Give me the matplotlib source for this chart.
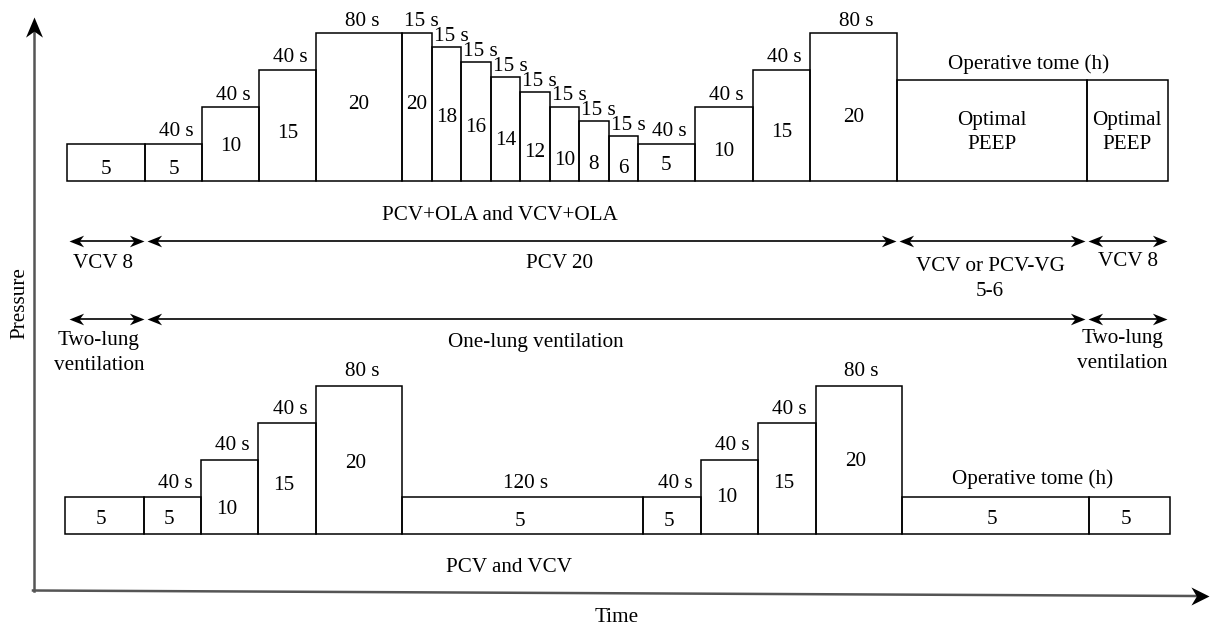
import numpy as np
import matplotlib.pyplot as plt
from matplotlib.path import Path

plt.rcParams['font.family'] = ['Liberation Serif', 'DejaVu Serif']

# ---- data ----
# top protocol (PCV+OLA / VCV+OLA)
top_levels = [5, 5, 10, 15, 20, 20, 18, 16, 14, 12, 10, 8, 6, 5, 10, 15, 20, 13.6, 13.6]
top_inner = ['5', '5', '10', '15', '20', '20', '18', '16', '14', '12', '10', '8', '6',
             '5', '10', '15', '20', 'Optimal\nPEEP', 'Optimal\nPEEP']
top_durations = ['', '40 s', '40 s', '40 s', '80 s'] + ['15 s'] * 8 + \
                ['40 s', '40 s', '40 s', '80 s', 'Operative tome (h)', '']

# bottom protocol (PCV / VCV)
bot_levels = [5, 5, 10, 15, 20, 5, 5, 10, 15, 20, 5, 5]
bot_inner = ['5', '5', '10', '15', '20', '5', '5', '10', '15', '20', '5', '5']
bot_durations = ['', '40 s', '40 s', '40 s', '80 s', '120 s',
                 '40 s', '40 s', '40 s', '80 s', 'Operative tome (h)', '']

# phases shown by the arrows
mode_labels = ['VCV 8', 'PCV 20', 'VCV or PCV-VG\n5-6', 'VCV 8']
lung_labels = ['Two-lung\nventilation', 'One-lung ventilation', 'Two-lung\nventilation']

# ---- layout (pixels) ----
PX = 7.4  # pixels per pressure unit
top_widths = [78, 57, 57, 57, 86] + [29.5] * 8 + [57, 57.5, 57.5, 87, 189.5, 81.5]
top_rise = [11, 11, 34, 47, 76, 76, 63, 53, 40, 28, 20, 16, 12, 15, 29, 48, 63, 48, 48]
bot_widths = [78.5, 57.5, 57, 58, 86, 241, 58, 57, 57.5, 86.5, 187, 81]
bot_rise = [14, 14, 24, 48, 70, 12, 12, 36, 51, 72, 15, 14]

FS = 15.2

fig = plt.figure(figsize=(12.11, 6.29), dpi=100)
ax = fig.add_axes([0, 0, 1, 1])
ax.set_xlim(0, 1211)
ax.set_ylim(629, 0)
ax.axis('off')


# notched arrow heads, tip at the origin
def head(direction, hw):
    pts = np.array([(0, 0), (-1, hw), (-0.7, 0), (-1, -hw), (0, 0)])
    if direction == 'left':
        pts[:, 0] *= -1
    elif direction == 'up':
        pts = pts[:, ::-1].copy()
    codes = [Path.MOVETO, Path.LINETO, Path.LINETO, Path.LINETO, Path.CLOSEPOLY]
    return Path(pts, codes)


def draw_row(x0, base, widths, levels, inner, rise, durations, in_dx, dur_gap):
    widths = np.array(widths, dtype=float)
    lefts = x0 + np.concatenate([[0], np.cumsum(widths)[:-1]])
    heights = np.array(levels) * PX
    ax.bar(lefts, -heights, width=widths, bottom=base, align='edge',
           fill=False, edgecolor='black', linewidth=1.1)
    for left, w, h, lab, r, dur in zip(lefts, widths, heights, inner, rise, durations):
        cx = left + w / 2
        ax.text(cx + in_dx, base - r, lab, ha='center', va='center',
                fontsize=FS, linespacing=1.3)
        if dur:
            if len(dur) > 6:
                dx, gap = 37, dur_gap + 4
            elif dur == '15 s':
                dx, gap = 5, dur_gap - 1
            else:
                dx, gap = 3, dur_gap
            ax.text(cx + dx, base - h - gap, dur, ha='center', va='center', fontsize=FS)
    return lefts, widths


tl, tw = draw_row(67, 180.5, top_widths, top_levels, top_inner, top_rise,
                  top_durations, 0, 11.5)
draw_row(65, 534, bot_widths, bot_levels, bot_inner, bot_rise,
         bot_durations, -3, 14)

# phase arrows, boundaries taken from the top row box edges
edges = np.concatenate([tl, [tl[-1] + tw[-1]]])
mode_bounds = [edges[0], edges[1], edges[17], edges[18], edges[19]]
lung_bounds = [edges[0], edges[1], edges[18], edges[19]]


def phase_arrows(bounds, y):
    for a, b in zip(bounds[:-1], bounds[1:]):
        a, b = a + 1.5, b - 1.5
        ax.plot([a + 6, b - 6], [y, y], color='black', lw=1.2, solid_capstyle='butt')
        ax.plot([a], [y], marker=head('left', 0.4), markersize=21,
                color='black', markeredgewidth=0, linestyle='none')
        ax.plot([b], [y], marker=head('right', 0.4), markersize=21,
                color='black', markeredgewidth=0, linestyle='none')


phase_arrows(mode_bounds, 241)
phase_arrows(lung_bounds, 319)

ax.text(500, 216, 'PCV+OLA and VCV+OLA', ha='center', va='center', fontsize=FS)
mode_pos = [(103, 263), (560, 263), (990, 279), (1128, 261)]
for (x, y), lab in zip(mode_pos, mode_labels):
    ax.text(x, y, lab, ha='center', va='center', fontsize=FS, linespacing=1.4)
lung_pos = [(99, 353), (536, 342), (1122, 351)]
for (x, y), lab in zip(lung_pos, lung_labels):
    ax.text(x, y, lab, ha='center', va='center', fontsize=FS, linespacing=1.4)

ax.text(509, 568, 'PCV and VCV', ha='center', va='center', fontsize=FS)

# axes
ax.plot([34, 34], [591, 30], color='#555555', lw=1.8)
ax.plot([34], [17], marker=head('up', 0.42), markersize=29,
        color='black', markeredgewidth=0, linestyle='none')
ax.plot([33, 1196], [590.5, 596], color='#555555', lw=1.8)
ax.plot([1209], [596], marker=head('right', 0.5), markersize=26,
        color='black', markeredgewidth=0, linestyle='none')
ax.text(20, 303, 'Pressure', rotation=90, ha='center', va='center', fontsize=FS)
ax.text(617, 618, 'Time', ha='center', va='center', fontsize=FS)

fig.savefig('out.png', dpi=100)
